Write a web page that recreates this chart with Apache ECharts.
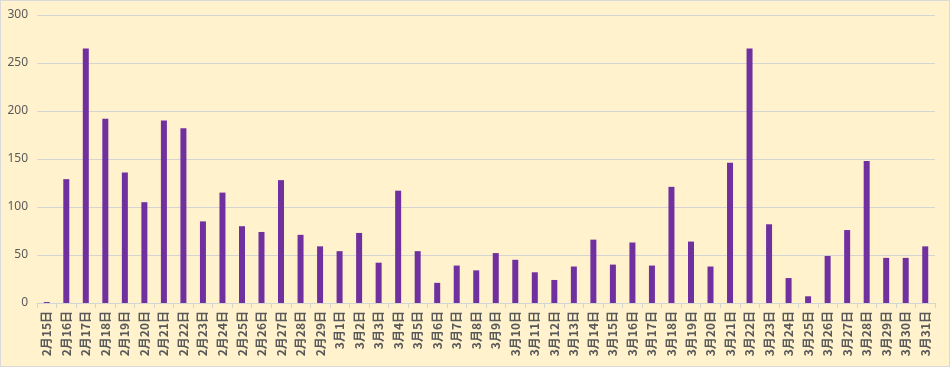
<!DOCTYPE html>
<html><head><meta charset="utf-8">
<script src="https://cdn.jsdelivr.net/npm/echarts@6/dist/echarts.min.js"></script>
<style>
html,body{margin:0;padding:0;background:#fff;}
#c{width:948px;height:365px;border:1px solid #D9D9D9;background:#FFF2CC;}
</style></head>
<body><div id="c"></div>
<script>
const febDays = [15,16,17,18,19,20,21,22,23,24,25,26,27,28,29];
const marDays = [1,2,3,4,5,6,7,8,9,10,11,12,13,14,15,16,17,18,19,20,21,22,23,24,25,26,27,28,29,30,31];
const categories = febDays.map(d => '2月' + d + '日').concat(marDays.map(d => '3月' + d + '日'));
const febValues = [1,129,265,192,136,105,190,182,85,115,80,74,128,71,59];
const marValues = [54,73,42,117,54,21,39,34,52,45,32,24,38,66,40,63,39,121,64,38,146,265,82,26,7,49,76,148,47,47,59];
const values = febValues.concat(marValues);
const yTicks = [0,50,100,150,200,250,300];

const chart = echarts.init(document.getElementById('c'));
chart.setOption({
  backgroundColor: '#FFF2CC',
  animation: false,
  grid: {left: 36, right: 14, top: 14, bottom: 63, containLabel: false},
  xAxis: {
    type: 'category',
    data: categories,
    boundaryGap: true,
    axisLine: {lineStyle: {color: '#D4D4D4', width: 1}},
    axisTick: {show: true, length: 5, lineStyle: {color: '#D4D4D4'}},
    axisLabel: {
      rotate: 90, interval: 0, margin: 8,
      color: '#595959', fontSize: 12, fontWeight: 'bold',
      fontFamily: '"Noto Sans CJK SC", sans-serif'
    }
  },
  yAxis: {
    type: 'value',
    min: yTicks[0], max: yTicks[yTicks.length - 1], interval: 50,
    axisLine: {show: false},
    axisTick: {show: false},
    splitLine: {lineStyle: {color: '#D4D4D4', width: 1}},
    axisLabel: {
      margin: 9, color: '#595959', fontSize: 12,
      fontFamily: '"Noto Sans", sans-serif'
    }
  },
  series: [{
    type: 'bar',
    data: values,
    barWidth: 6,
    itemStyle: {color: '#7030A0'}
  }]
});
</script></body></html>
